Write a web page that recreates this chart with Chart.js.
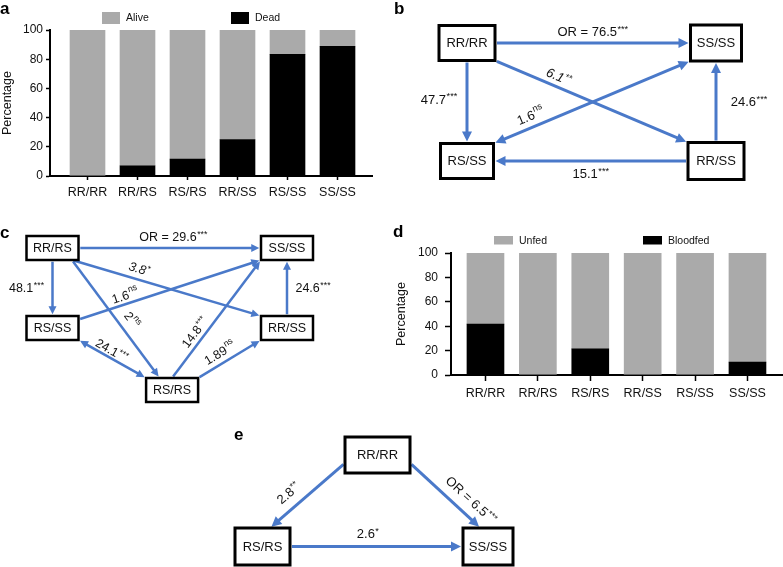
<!DOCTYPE html>
<html>
<head>
<meta charset="utf-8">
<title>Genotype mortality, feeding and odds ratios</title>
<script src="https://cdn.jsdelivr.net/npm/chart.js@4.4.1/dist/chart.umd.min.js"></script>
<style>
  body { margin: 0; background: #fff; }
  #fig { position: relative; width: 783px; height: 567px; overflow: hidden; font-family: "Liberation Sans", Arial, sans-serif; }
  .panel { position: absolute; }
  .tag { position: absolute; font-weight: bold; font-size: 17px; line-height: 17px; color: #000; }
</style>
</head>
<body>
<div id="fig">
  <div class="panel" style="left:0;top:0;width:390px;height:200px"><canvas id="chartA"></canvas></div>
  <div class="panel" style="left:390px;top:0;width:393px;height:200px"><canvas id="chartB"></canvas></div>
  <div class="panel" style="left:0;top:200px;width:390px;height:215px"><canvas id="chartC"></canvas></div>
  <div class="panel" style="left:390px;top:200px;width:393px;height:200px"><canvas id="chartD"></canvas></div>
  <div class="panel" style="left:180px;top:420px;width:450px;height:147px"><canvas id="chartE"></canvas></div>
  <div class="tag" style="left:0;top:0">a</div>
  <div class="tag" style="left:394px;top:0">b</div>
  <div class="tag" style="left:0;top:224px">c</div>
  <div class="tag" style="left:393px;top:223px">d</div>
  <div class="tag" style="left:234px;top:426px">e</div>
</div>
<script>
// genotypes on the x axis of the bar panels
const genotypes = ['RR/RR', 'RR/RS', 'RS/RS', 'RR/SS', 'RS/SS', 'SS/SS'];
const pctTicks = [0, 20, 40, 60, 80, 100];

// panel a: mortality (%)
const deadPct = [0, 7, 11.6, 25, 83.3, 88.9];
const alivePct = [100, 93, 88.4, 75, 16.7, 11.1];

// panel d: blood feeding (%)
const bloodfedPct = [41.7, 0, 21.4, 0, 0, 10.5];
const unfedPct = [58.3, 100, 78.6, 100, 100, 89.5];

// odds ratio diagrams: [from, to, OR, significance, two-way]
const bNodes = ['RR/RR', 'SS/SS', 'RS/SS', 'RR/SS'];
const bEdges = [
  ['RR/RR', 'SS/SS', '76.5', '***'],
  ['RR/RR', 'RS/SS', '47.7', '***'],
  ['RR/RR', 'RR/SS', '6.1', '**'],
  ['RR/SS', 'SS/SS', '24.6', '***'],
  ['RS/SS', 'SS/SS', '1.6', 'ns', true],
  ['RR/SS', 'RS/SS', '15.1', '***']
];
const cNodes = ['RR/RS', 'SS/SS', 'RS/SS', 'RR/SS', 'RS/RS'];
const cEdges = [
  ['RR/RS', 'SS/SS', '29.6', '***'],
  ['RR/RS', 'RS/SS', '48.1', '***'],
  ['RR/RS', 'RR/SS', '3.8', '*'],
  ['RR/RS', 'RS/RS', '2', 'ns'],
  ['RS/SS', 'SS/SS', '1.6', 'ns'],
  ['RS/RS', 'SS/SS', '14.8', '***'],
  ['RR/SS', 'SS/SS', '24.6', '***'],
  ['RS/RS', 'RS/SS', '24.1', '***', true],
  ['RS/RS', 'RR/SS', '1.89', 'ns']
];
const eNodes = ['RR/RR', 'RS/RS', 'SS/SS'];
const eEdges = [
  ['RR/RR', 'RS/RS', '2.8', '**'],
  ['RR/RR', 'SS/SS', '6.5', '***'],
  ['RS/RS', 'SS/SS', '2.6', '*']
];

const FONT = '"Liberation Sans", Arial, sans-serif';
const BLUE = '#4a79c9';
const GREY = '#aaaaaa';
Chart.defaults.font.family = FONT;
Chart.defaults.color = '#111';

// legend drawn at fixed spots above the plot
function swatchLegend(o) {
  return {
    id: 'swatchLegend',
    afterDraw(chart) {
      const ctx = chart.ctx;
      ctx.save();
      o.order.forEach((di, k) => {
        const ds = chart.data.datasets[di];
        const x = o.x[k];
        ctx.fillStyle = ds.backgroundColor;
        ctx.fillRect(x, o.y, o.w, o.h);
        ctx.fillStyle = '#111';
        ctx.font = o.font + 'px ' + FONT;
        ctx.textAlign = 'left';
        ctx.textBaseline = 'middle';
        ctx.fillText(ds.label, x + o.w + 6, o.y + o.h / 2 + 0.5);
      });
      ctx.restore();
    }
  };
}

function makeBars(id, series, f) {
  const el = document.getElementById(id);
  const W = el.parentNode.clientWidth, H = el.parentNode.clientHeight;
  const grid = () => ({ offset: false, drawOnChartArea: false, tickLength: f.tick, tickWidth: 1.5, tickColor: '#000' });
  const border = () => ({ color: '#000', width: 2 });
  return new Chart(el, {
    type: 'bar',
    data: {
      datasets: series.map(s => ({
        label: s.label,
        backgroundColor: s.color,
        borderWidth: 0,
        barThickness: f.bar,
        data: s.data.map((v, i) => ({ x: i, y: v }))
      }))
    },
    options: {
      responsive: true,
      maintainAspectRatio: false,
      animation: false,
      events: [],
      layout: { padding: { top: f.top, right: W - f.right, left: 0, bottom: 0 } },
      plugins: { legend: { display: false }, tooltip: { enabled: false } },
      scales: {
        x: {
          type: 'linear', offset: false, stacked: true, min: f.xmin, max: f.xmax,
          afterFit: s => { s.height = H - f.bottom; },
          afterBuildTicks: s => { s.ticks = genotypes.map((g, i) => ({ value: i })); },
          ticks: { callback: v => genotypes[v], font: { size: 12.5 }, padding: 5, maxRotation: 0, autoSkip: false },
          grid: grid(), border: border()
        },
        y: {
          stacked: true, min: 0, max: 100,
          afterFit: s => { s.width = f.left; },
          afterBuildTicks: s => { s.ticks = pctTicks.map(v => ({ value: v })); },
          ticks: { font: { size: 12 }, padding: f.pad },
          title: { display: true, text: 'Percentage', font: { size: 12.5 }, padding: { top: f.titlePad, bottom: 0 } },
          grid: grid(), border: border()
        }
      }
    },
    plugins: [swatchLegend(f.legend)]
  });
}

// boxes + arrows, placed by the chart's own x/y scales
function diagramPlugin(names, edges, L) {
  const clip = (b, to) => {
    const dx = to[0] - b.cx, dy = to[1] - b.cy;
    const t = Math.min(dx ? b.hw / Math.abs(dx) : Infinity, dy ? b.hh / Math.abs(dy) : Infinity);
    return [b.cx + dx * t, b.cy + dy * t];
  };
  const head = (ctx, tip, ux, uy) => {
    const bx = tip[0] - ux * L.head, by = tip[1] - uy * L.head;
    ctx.beginPath();
    ctx.moveTo(tip[0], tip[1]);
    ctx.lineTo(bx + uy * L.headW, by - ux * L.headW);
    ctx.lineTo(bx - uy * L.headW, by + ux * L.headW);
    ctx.closePath();
    ctx.fill();
  };
  return {
    id: 'diagram',
    afterDatasetsDraw(chart) {
      const ctx = chart.ctx;
      const pts = chart.getDatasetMeta(0).data;
      const boxes = {};
      names.forEach((n, i) => {
        const s = (L.sizes && L.sizes[n]) || L.box;
        boxes[n] = { cx: pts[i].x, cy: pts[i].y, hw: s[0] / 2, hh: s[1] / 2 };
      });
      const gap = L.border / 2 + 0.5;
      const texts = [];
      ctx.save();
      ctx.strokeStyle = BLUE;
      ctx.fillStyle = BLUE;
      ctx.lineWidth = L.line;
      edges.forEach((e, k) => {
        const st = L.labels[k] || {};
        const A = boxes[e[0]], B = boxes[e[1]];
        const ports = st.ports || [null, null];
        const portPt = (b, p) => [b.cx + p[0] * b.hw, b.cy + p[1] * b.hh];
        const refA = ports[0] ? portPt(A, ports[0]) : [A.cx, A.cy];
        const refB = ports[1] ? portPt(B, ports[1]) : [B.cx, B.cy];
        const p0 = ports[0] ? refA : clip(A, refB);
        const p1 = ports[1] ? refB : clip(B, refA);
        const len = Math.hypot(p1[0] - p0[0], p1[1] - p0[1]);
        const ux = (p1[0] - p0[0]) / len, uy = (p1[1] - p0[1]) / len;
        const s0 = [p0[0] + ux * gap, p0[1] + uy * gap];
        const s1 = [p1[0] - ux * gap, p1[1] - uy * gap];
        const back = L.head * 0.7;
        ctx.beginPath();
        ctx.moveTo(s0[0] + (e[4] ? ux * back : 0), s0[1] + (e[4] ? uy * back : 0));
        ctx.lineTo(s1[0] - ux * back, s1[1] - uy * back);
        ctx.stroke();
        head(ctx, s1, ux, uy);
        if (e[4]) head(ctx, s0, -ux, -uy);
        // label spot: along the edge, pushed off to one side
        let nx = uy, ny = -ux;
        if (ny > 1e-6 || (Math.abs(ny) <= 1e-6 && nx > 0)) { nx = -nx; ny = -ny; }
        const t = st.t == null ? 0.5 : st.t;
        let ang = Math.atan2(uy, ux);
        if (ang > Math.PI / 2) ang -= Math.PI;
        if (ang <= -Math.PI / 2) ang += Math.PI;
        texts.push({
          x: p0[0] + (p1[0] - p0[0]) * t + nx * (st.off || 0),
          y: p0[1] + (p1[1] - p0[1]) * t + ny * (st.off || 0),
          ang: st.rot ? ang : 0,
          main: (st.prefix || '') + e[2],
          sup: e[3],
          italic: !!st.italic
        });
      });
      // boxes
      ctx.lineWidth = L.border;
      ctx.strokeStyle = '#000';
      names.forEach(n => {
        const b = boxes[n];
        ctx.fillStyle = '#fff';
        ctx.fillRect(b.cx - b.hw, b.cy - b.hh, b.hw * 2, b.hh * 2);
        ctx.strokeRect(b.cx - b.hw, b.cy - b.hh, b.hw * 2, b.hh * 2);
        ctx.fillStyle = '#111';
        ctx.font = L.font + 'px ' + FONT;
        ctx.textAlign = 'center';
        ctx.textBaseline = 'middle';
        ctx.fillText(n, b.cx, b.cy + 0.5);
      });
      // odds ratio labels
      ctx.textAlign = 'left';
      ctx.fillStyle = '#111';
      texts.forEach(tx => {
        const it = tx.italic ? 'italic ' : '';
        const fm = it + L.font + 'px ' + FONT;
        const fs = it + (L.font * 0.7).toFixed(1) + 'px ' + FONT;
        ctx.font = fm;
        const wm = ctx.measureText(tx.main).width;
        ctx.font = fs;
        const ws = ctx.measureText(tx.sup).width;
        ctx.save();
        ctx.translate(tx.x, tx.y);
        ctx.rotate(tx.ang);
        const x0 = -(wm + ws + 0.5) / 2;
        ctx.font = fm;
        ctx.fillText(tx.main, x0, 0.5);
        ctx.font = fs;
        ctx.fillText(tx.sup, x0 + wm + 0.5, tx.sup === 'ns' ? -L.font * 0.38 : -L.font * 0.2);
        ctx.restore();
      });
      ctx.restore();
    }
  };
}

function makeDiagram(id, names, edges, L) {
  const el = document.getElementById(id);
  const W = el.parentNode.clientWidth, H = el.parentNode.clientHeight;
  return new Chart(el, {
    type: 'scatter',
    data: { datasets: [{ data: names.map(n => ({ x: L.nodes[n][0], y: L.nodes[n][1] })), pointRadius: 0 }] },
    options: {
      responsive: true,
      maintainAspectRatio: false,
      animation: false,
      events: [],
      layout: { padding: 0 },
      plugins: { legend: { display: false }, tooltip: { enabled: false } },
      scales: {
        x: { display: false, min: -L.x0 / L.dx, max: (W - L.x0) / L.dx },
        y: { display: false, reverse: true, min: -L.y0 / L.dy, max: (H - L.y0) / L.dy }
      }
    },
    plugins: [diagramPlugin(names, edges, L)]
  });
}

makeBars('chartA', [
  { label: 'Dead', data: deadPct, color: '#000' },
  { label: 'Alive', data: alivePct, color: GREY }
], {
  top: 30, bottom: 176, left: 50, right: 372, xmin: -0.75, xmax: 5.69, bar: 35,
  tick: 4, pad: 3, titlePad: 0,
  legend: { order: [1, 0], x: [102, 231], y: 12, w: 18, h: 12, font: 10.5 }
});

makeBars('chartD', [
  { label: 'Bloodfed', data: bloodfedPct, color: '#000' },
  { label: 'Unfed', data: unfedPct, color: GREY }
], {
  top: 53, bottom: 175, left: 61, right: 392, xmin: -0.658, xmax: 5.659, bar: 37,
  tick: 6, pad: 7, titlePad: 4,
  legend: { order: [1, 0], x: [104, 253], y: 36, w: 19, h: 8.5, font: 10.5 }
});

makeDiagram('chartB', bNodes, bEdges, {
  x0: 77, dx: 249, y0: 43, dy: 118,
  nodes: { 'RR/RR': [0, 0], 'SS/SS': [1, 0], 'RS/SS': [0, 1], 'RR/SS': [1, 1] },
  box: [54, 36], sizes: { 'RR/RR': [56, 35], 'SS/SS': [51, 36], 'RS/SS': [53, 35], 'RR/SS': [56, 37] },
  border: 3, line: 3, font: 13, head: 10, headW: 5,
  labels: [
    { t: 0.5, off: 11, prefix: 'OR = ' },
    { t: 0.47, off: 28 },
    { t: 0.31, off: 10, rot: true, italic: true, ports: [[1, 1], [-1, -1]] },
    { t: 0.5, off: -33 },
    { t: 0.21, off: 11, rot: true, ports: [[1, -1], [-1, 1]] },
    { t: 0.5, off: -13 }
  ]
});

makeDiagram('chartC', cNodes, cEdges, {
  x0: 52.5, dx: 234.5, y0: 48, dy: 80,
  nodes: { 'RR/RS': [0, 0], 'SS/SS': [1, 0], 'RS/SS': [0, 1], 'RR/SS': [1, 1], 'RS/RS': [0.51, 1.775] },
  box: [52, 24],
  border: 2.5, line: 2.5, font: 12.5, head: 8, headW: 4,
  labels: [
    { t: 0.52, off: 11, prefix: 'OR = ' },
    { t: 0.5, off: 26 },
    { t: 0.34, off: 10.5, rot: true, italic: true, ports: [[0.75, 1], [-1, -1]] },
    { t: 0.57, off: 12, rot: true, ports: [[0.75, 1], [-0.48, -1]] },
    { t: 0.27, off: 8, rot: true, ports: [null, [-1, 1]] },
    { t: 0.34, off: 9, rot: true, ports: [[0, -1], [-1, 1]] },
    { t: 0.5, off: -26 },
    { t: 0.56, off: 7, rot: true, ports: [[-1, -1], [1, 1]] },
    { t: 0.43, off: 10, rot: true, ports: [[1, -1], [-1, 1]] }
  ]
});

makeDiagram('chartE', eNodes, eEdges, {
  x0: 82.5, dx: 225.5, y0: 35, dy: 91.5,
  nodes: { 'RR/RR': [0.51, 0], 'RS/RS': [0, 1], 'SS/SS': [1, 1] },
  box: [55, 37], sizes: { 'RR/RR': [65, 36], 'SS/SS': [50, 37] },
  border: 3, line: 3, font: 13, head: 10, headW: 5,
  labels: [
    { t: 0.63, off: 14, rot: true, ports: [[-1, 0.45], [0.27, -1]] },
    { t: 0.73, off: 14, rot: true, prefix: 'OR = ', ports: [[1, 0.45], [-0.3, -1]] },
    { t: 0.45, off: 12.5 }
  ]
});
</script>
</body>
</html>
